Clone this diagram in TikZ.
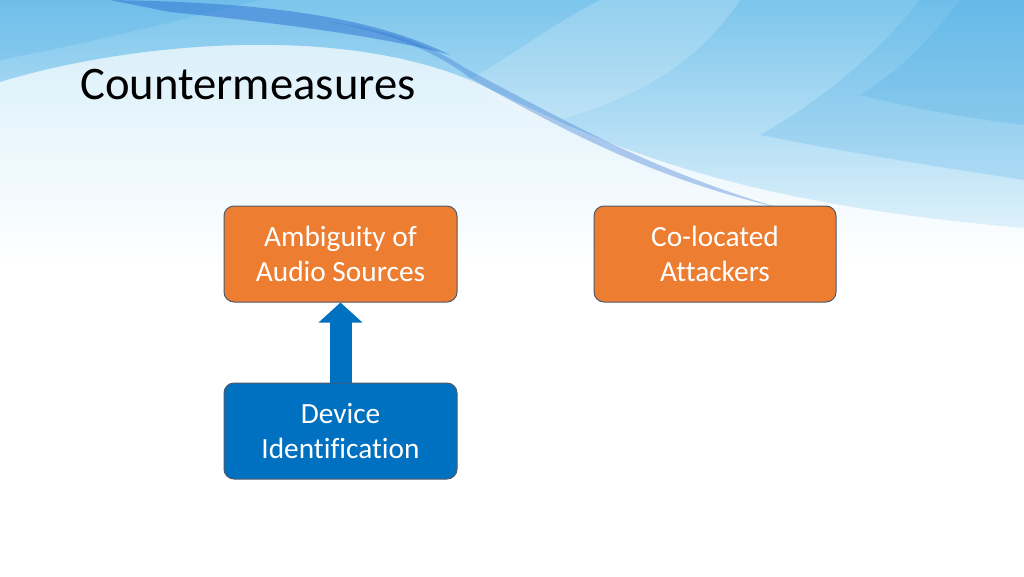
\documentclass[tikz,border=0pt]{standalone}
\usepackage{fontspec}
\setmainfont{Carlito}[Ligatures=NoCommon]
\usepackage{tikz}
\usetikzlibrary{arrows.meta}

\definecolor{threatorange}{HTML}{ED7D31}
\definecolor{defenseblue}{HTML}{0070C0}
\definecolor{boxedge}{HTML}{4E5A6B}
\definecolor{bgpale}{HTML}{D4EDF9}
\definecolor{swooshtop}{HTML}{7CC5EC}
\definecolor{swooshlow}{HTML}{DDF1FB}
\definecolor{swooshdeep}{HTML}{3FA6E3}
\definecolor{swooshdark}{HTML}{2F72D2}

\tikzset{
  cmbox/.style={draw=boxedge, line width=0.75pt, rounded corners=7.5pt,
    minimum width=174.75pt, minimum height=72pt, align=center, text=white,
    font=\fontsize{22}{26.25}\selectfont},
  threat/.style={cmbox, fill=threatorange},
  defense/.style={cmbox, fill=defenseblue}
}

\begin{document}
\begin{tikzpicture}[x=0.75pt,y=-0.75pt]
\useasboundingbox (0,0) rectangle (1024,576);
\fill[white] (0,0) rectangle (1024,576);
% background swoosh
\shade[top color=bgpale, bottom color=white] (0,0) rectangle (1024,270);
\shade[top color=swooshtop, bottom color=swooshlow]
  (0,0) -- (0,82) .. controls (120,45) and (330,22) .. (470,80)
  .. controls (590,135) and (700,200) .. (1024,228) -- (1024,0) -- cycle;
\fill[white, opacity=0.18] (600,0) -- (740,0) .. controls (700,60) and (640,100) .. (540,125)
  .. controls (510,110) and (490,95) .. (470,80) .. controls (520,50) and (560,20) .. (600,0) -- cycle;
\fill[swooshdeep, opacity=0.2] (920,0) .. controls (880,50) and (830,95) .. (760,135)
  .. controls (860,155) and (960,170) .. (1024,180) -- (1024,0) -- cycle;
\fill[swooshdeep, opacity=0.2] (960,0) .. controls (930,40) and (900,70) .. (860,95)
  .. controls (920,110) and (980,120) .. (1024,125) -- (1024,0) -- cycle;
\fill[swooshdeep, opacity=0.2] (0,0) -- (260,0) .. controls (180,20) and (80,45) .. (0,60) -- cycle;
\fill[swooshdark, opacity=0.5] (110,0) .. controls (230,2) and (360,10) .. (450,55)
  .. controls (380,35) and (250,20) .. (170,12) .. controls (150,8) and (130,4) .. (110,0) -- cycle;
\fill[swooshdark, opacity=0.35] (330,22) .. controls (400,35) and (440,55) .. (470,78)
  .. controls (560,128) and (650,178) .. (780,208)
  .. controls (650,170) and (560,118) .. (465,68)
  .. controls (430,45) and (390,30) .. (330,22) -- cycle;
% title
\node[anchor=base west, inner sep=0pt, font=\fontsize{35}{40}\selectfont] (title) at (80,99) {Countermeasures};
% boxes
\node[threat] (amb) at (340.5,254) {Ambiguity of\\Audio Sources};
\node[threat, minimum width=181.5pt] (coloc) at (715,254) {Co-located\\Attackers};
\node[defense] (devid) at (340.5,431) {Device\\Identification};
\draw[defenseblue, line width=16.5pt, -{Triangle[width=32pt, length=15pt]}] (devid.north) -- (amb.south);
\end{tikzpicture}
\end{document}
